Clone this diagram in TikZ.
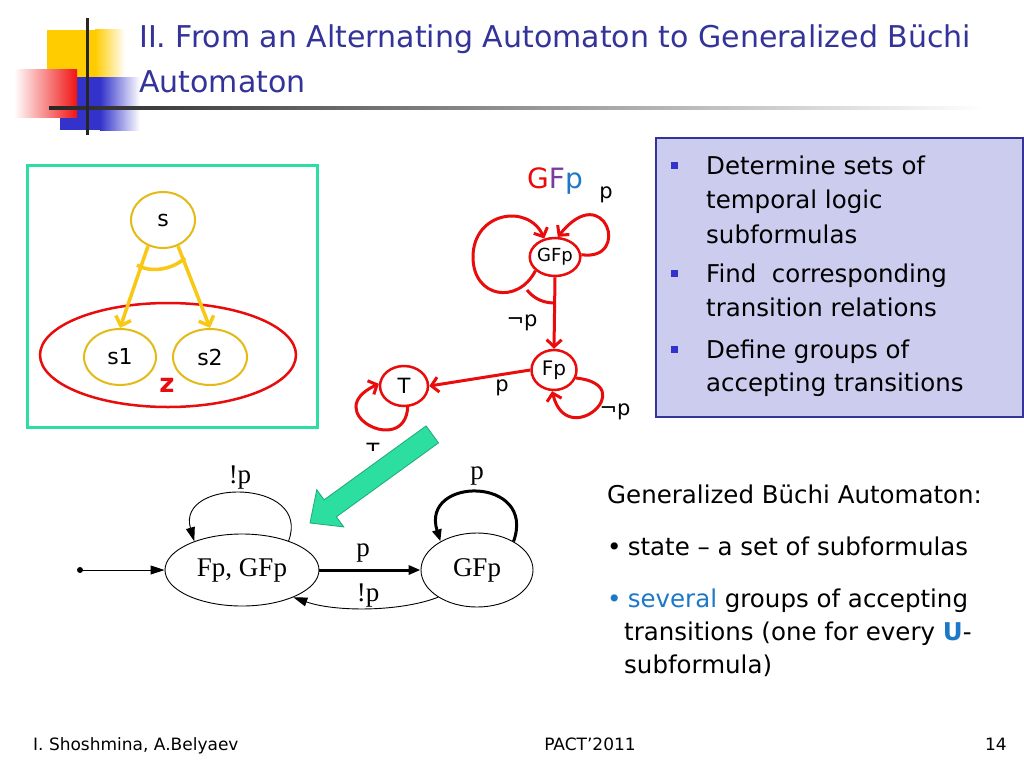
\documentclass[tikz,border=0pt]{standalone}
\usepackage{fontspec}
\setmainfont{DejaVu Sans}
\newfontfamily\tnr{Liberation Serif}
\usetikzlibrary{shapes.geometric,arrows.meta,calc}
\definecolor{ttl}{RGB}{51,51,153}
\definecolor{redc}{RGB}{232,12,12}
\definecolor{goldc}{RGB}{228,186,22}
\definecolor{yelc}{RGB}{248,200,20}
\definecolor{teal}{RGB}{44,222,160}
\definecolor{tealdk}{RGB}{30,170,120}
\definecolor{lav}{RGB}{204,204,238}
\definecolor{bulc}{RGB}{51,51,204}
\definecolor{bluec}{RGB}{30,120,200}
\definecolor{purp}{RGB}{120,60,160}
\definecolor{logoy}{RGB}{255,204,0}
\definecolor{logob}{RGB}{51,51,204}
\definecolor{logor}{RGB}{240,20,20}
\tikzset{
  fs/.style={font=\fontsize{#1}{#1}\selectfont},
  rnode/.style={ellipse, draw=redc, line width=2.5pt, inner sep=0pt, fill=white},
  rarr/.style={draw=redc, line width=3pt, -{Straight Barb[length=7pt,width=15pt]}},
  rline/.style={draw=redc, line width=3pt},
  ynode/.style={ellipse, draw=goldc, line width=2pt, inner sep=0pt, fs=22},
  yarr/.style={draw=yelc, line width=3.5pt, -{Straight Barb[length=8pt,width=16pt]}},
  bnode/.style={ellipse, draw=black, line width=0.9pt, inner sep=0pt, font=\tnr\fontsize{27}{27}\selectfont},
  barr/.style={draw=black, line width=0.9pt, -{Triangle[length=14pt,width=9pt]}},
  bthick/.style={draw=black, line width=3pt, -{Triangle[length=12pt,width=9pt]}},
  blab/.style={font=\tnr\fontsize{27}{27}\selectfont, inner sep=0pt},
  rtxt/.style={anchor=base west, inner sep=0pt, fs=24.5},
  lab/.style={inner sep=0pt, fs=21},
}
\begin{document}
\begin{tikzpicture}[x=1pt,y=-1pt]
\useasboundingbox (0,0) rectangle (1024,768);
\fill[white] (0,0) rectangle (1024,768);
% logo
\fill[logoy] (47,30) rectangle (95,77);
\shade[left color=logoy, right color=white] (95,30) rectangle (125,77);
\fill[logob] (60,77) rectangle (100,130);
\shade[left color=logob, right color=white] (100,77) rectangle (140,130);
\shade[left color=white, right color=logor] (14,69) rectangle (77,117);
\shade[left color=black!85, right color=white] (49,106.5) rectangle (985,109.5);
\fill[black!85] (85.5,18) rectangle (88.5,135);
% title
\node[anchor=base west, inner sep=0pt, text=ttl, fs=30] (t1) at (139,48) {II. From an Alternating Automaton to Generalized Büchi};
\node[anchor=base west, inner sep=0pt, text=ttl, fs=30] (t2) at (139,92) {Automaton};
% green box
\node[draw=teal, line width=3pt, minimum width=290pt, minimum height=262pt, inner sep=0pt] (gbox) at (172.5,296) {};
\node[ellipse, draw=redc, line width=2.5pt, minimum width=256pt, minimum height=104pt, inner sep=0pt] (zell) at (168,355) {};
\node[ynode, minimum width=64pt, minimum height=56pt] (s) at (163,220) {s};
\node[ynode, minimum width=72pt, minimum height=56pt] (s1) at (120,357) {s1};
\node[ynode, minimum width=74pt, minimum height=56pt] (s2) at (210,357) {s2};
\node[text=redc, inner sep=0pt, font=\bfseries\fontsize{26}{26}\selectfont] (z) at (167,385) {z};
\draw[yarr] (s.240) -- (s1.north);
\draw[yarr] (s.300) -- (s2.north);
\draw[draw=yelc, line width=3.5pt] (137,265) .. controls (150,273) and (172,270) .. (185,258);
% middle automaton
\node[anchor=base west, inner sep=0pt, fs=28] (gfpt) at (527,188) {\textcolor{redc}{G}\textcolor{purp}{F}\textcolor{bluec}{p}};
\node[lab] (lp1) at (606,195) {p};
\node[rnode, minimum width=46pt, minimum height=38pt, fs=18] (gfp) at (555,257) {GFp};
\node[rnode, minimum width=45pt, minimum height=40pt, fs=20] (fp) at (554,370) {Fp};
\node[rnode, minimum width=48pt, minimum height=40pt, fs=21] (tn) at (404,386) {T};
\draw[rline] (gfp.215) .. controls (518,305) and (473,298) .. (473,257);
\draw[rarr] (473,257) .. controls (473,212) and (528,203) .. (gfp.120);
\draw[rarr] (gfp.5) .. controls (632,262) and (605,178) .. (gfp.82);
\draw[rline] (527,290) .. controls (535,300) and (545,303) .. (555,303);
\draw[rarr] (gfp.south) -- (fp.north);
\node[lab] (lnp1) at (522,323) {¬p};
\draw[rarr] (fp.-20) .. controls (642,385) and (567,452) .. (fp.-95);
\node[lab] (lnp2) at (615,412) {¬p};
\draw[rarr] (fp.west) -- (tn.east);
\node[lab] (lp2) at (502,388) {p};
\draw[rarr] (tn.-80) .. controls (405,458) and (318,412) .. (tn.175);
\begin{scope}
\clip (340,430) rectangle (400,450);
\node[lab] (ltop) at (373,451) {T};
\end{scope}
% green arrow
\draw[fill=teal, draw=tealdk, line width=0.8pt]
  (310,523) -- (343.75,526.9) -- (336.4,516.8) -- (438.5,442.9) -- (426.1,425.9) -- (324.1,499.8) -- (316.75,489.7) -- cycle;
% bottom automaton
\node[bnode, minimum width=154pt, minimum height=72pt] (a) at (242,570) {Fp, GFp};
\node[bnode, minimum width=112pt, minimum height=74pt] (b) at (477,570) {GFp};
\coordinate (init) at (80,570);
\fill (init) circle (3pt);
\draw[barr] (init) -- (a.west);
\draw[bthick] (a.east) -- (b.west);
\node[blab] (bp1) at (363,553) {p};
\draw[barr] (b.215) .. controls (400,612) and (335,612) .. (a.-28);
\node[blab] (bnp1) at (368,596) {!p};
\draw[barr] (a.32) .. controls (312,478) and (176,478) .. (a.149);
\node[blab] (bnp2) at (240,478) {!p};
\draw[bthick] (b.38) .. controls (537,476) and (420,476) .. (b.142);
\node[blab] (bp2) at (477,476) {p};
% right box
\node[draw=ttl, fill=lav, line width=2pt, minimum width=367pt, minimum height=279pt, inner sep=0pt] (rbox) at (839.5,277.5) {};
\fill[bulc] (671,162) rectangle (678,169);
\fill[bulc] (671,270) rectangle (678,277);
\fill[bulc] (671,346) rectangle (678,353);
\node[rtxt] (r1) at (706,174) {Determine sets of};
\node[rtxt] (r2) at (706,208) {temporal logic};
\node[rtxt] (r3) at (706,243) {subformulas};
\node[rtxt] (r4) at (706,282) {Find\ \ corresponding};
\node[rtxt] (r5) at (706,316) {transition relations};
\node[rtxt] (r6) at (706,358) {Define groups of};
\node[rtxt] (r7) at (706,391) {accepting transitions};
% bottom right text
\node[rtxt] (g1) at (607,503) {Generalized Büchi Automaton:};
\node[rtxt] (g2) at (607,555) {•\hspace{0.25em}state – a set of subformulas};
\node[rtxt] (g3) at (607,607) {\textcolor{bluec}{•\hspace{0.25em}several} groups of accepting};
\node[rtxt] (g4) at (624,640) {transitions (one for every \textcolor{bluec}{\bfseries U}-};
\node[rtxt] (g5) at (624,673) {subformula)};
% footer
\node[anchor=base west, inner sep=0pt, fs=17] (f1) at (33,750) {I. Shoshmina, A.Belyaev};
\node[anchor=base, inner sep=0pt, fs=17] (f2) at (590,750) {PACT’2011};
\node[anchor=base east, inner sep=0pt, fs=17] (f3) at (1007,750) {14};
\end{tikzpicture}
\end{document}
